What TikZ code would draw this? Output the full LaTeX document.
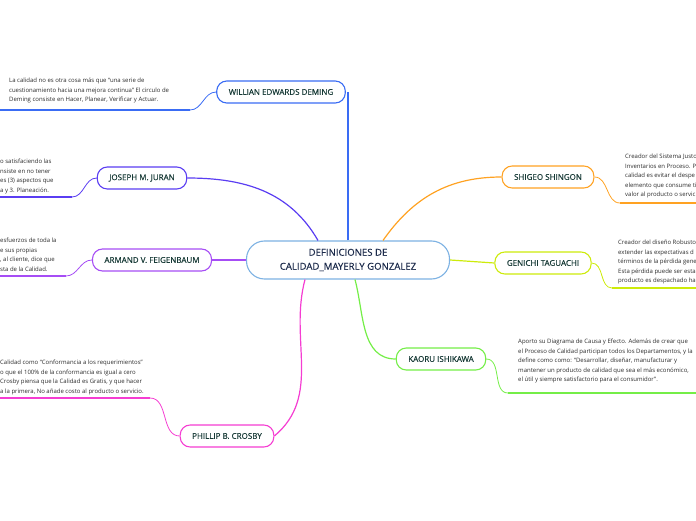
\documentclass[tikz,border=0pt]{standalone}
\usepackage{fontspec}
\setmainfont{Open Sans}
\newfontfamily\labelfont{Open Sans}[FakeBold=0.35]
\usetikzlibrary{positioning}

\definecolor{rootline}{HTML}{7DB2E3}
\definecolor{roottext}{HTML}{1B2A4A}
\definecolor{topictext}{HTML}{173A36}
\definecolor{notetext}{HTML}{2B2B2B}
\definecolor{demingc}{HTML}{3A6CF4}
\definecolor{juranc}{HTML}{5A3DF2}
\definecolor{feigenc}{HTML}{A64DF5}
\definecolor{crosbyc}{HTML}{F53DD2}
\definecolor{shingoc}{HTML}{FFA222}
\definecolor{taguchic}{HTML}{CDEB0A}
\definecolor{ishikawac}{HTML}{74EE47}

\tikzset{
  root/.style={draw=rootline, line width=1.1pt, rounded corners=18pt, fill=white,
    minimum width=203pt, minimum height=38pt, align=center, text=roottext,
    font=\labelfont\fontsize{9.6}{14}\selectfont},
  topic/.style={draw, line width=1.1pt, rounded corners=10pt, fill=white,
    minimum height=22pt, inner xsep=12pt, text=topictext,
    font=\labelfont\fontsize{8}{9}\selectfont},
  note/.style={anchor=north west, align=left, inner sep=0pt, text=notetext,
    font=\fontsize{6}{9.5}\selectfont},
  link/.style={line width=1.2pt},
  rule/.style={line width=1.8pt}
}

\begin{document}
\begin{tikzpicture}[x=1pt,y=1pt]
\useasboundingbox (0,0) rectangle (696,520);
\clip (0,0) rectangle (696,520);

% central topic
\node[root] (root) at (348,260) {DEFINICIONES DE\\CALIDAD\_MAYERLY GONZALEZ};

% left side
\node[topic, draw=demingc] (deming) at (281,428) {WILLIAN EDWARDS DEMING};
\node[topic, draw=juranc] (juran) at (142,342) {JOSEPH M. JURAN};
\node[topic, draw=feigenc] (feigen) at (152,260) {ARMAND V. FEIGENBAUM};
\node[topic, draw=crosbyc] (crosby) at (227,84) {PHILLIP B. CROSBY};

% right side
\node[topic, draw=shingoc] (shingo) at (548,343) {SHIGEO SHINGON};
\node[topic, draw=taguchic] (taguchi) at (543,257) {GENICHI TAGUACHI};
\node[topic, draw=ishikawac] (ishikawa) at (441,161) {KAORU ISHIKAWA};

% notes
\node[note] (demingnote) at (9,442) {La calidad no es otra cosa más que “una serie de\\cuestionamiento hacia una mejora continua” El circulo de\\Deming consiste en Hacer, Planear, Verificar y Actuar.};
\node[note] (jurannote) at (0,361) {o satisfaciendo las\\nsiste en no tener\\es (3) aspectos que\\a y 3. Planeación.};
\node[note] (feigennote) at (0,282) {esfuerzos de toda la\\e sus propias\\, al cliente, dice que\\sta de la Calidad.};
\node[note] (crosbynote) at (0,160) {Calidad como “Conformancia a los requerimientos”\\o que el 100\% de la conformancia es igual a cero\\Crosby piensa que la Calidad es Gratis, y que hacer\\a la primera, No añade costo al producto o servicio.};
\node[note] (shingonote) at (625,366) {Creador del Sistema Justo\\Inventarios en Proceso. P\\calidad es evitar el despe\\elemento que consume ti\\valor al producto o servic};
\node[note] (taguchinote) at (618,280) {Creador del diseño Robusto\\extender las expectativas d\\términos de la pérdida gene\\Esta pérdida puede ser esta\\producto es despachado ha};
\node[note] (ishikawanote) at (518,181) {Aporto su Diagrama de Causa y Efecto. Además de crear que\\el Proceso de Calidad participan todos los Departamentos, y la\\define como como: “Desarrollar, diseñar, manufacturar y\\mantener un producto de calidad que sea el más económico,\\el útil y siempre satisfactorio para el consumidor”.};

% underline ends
\coordinate (dl1) at (0,410);   \coordinate (dl2) at (190,410);
\coordinate (jl1) at (0,323);   \coordinate (jl2) at (72,323);
\coordinate (fl1) at (0,244);   \coordinate (fl2) at (66,244);
\coordinate (cl1) at (0,122);   \coordinate (cl2) at (150,122);
\coordinate (sl1) at (620,317); \coordinate (sl2) at (696,317);
\coordinate (tl1) at (612,232); \coordinate (tl2) at (696,232);
\coordinate (il1) at (508,127); \coordinate (il2) at (696,127);

% branches
\draw[link, demingc] (root.north) -- (root.north |- deming.east);
\draw[link, juranc] (juran.east) to[out=0, in=120] ([xshift=-30pt]root.north);
\draw[link, feigenc] (feigen.east) -- (root.west);
\draw[link, crosbyc] (crosby.east) to[out=40, in=-105] ([xshift=-43pt]root.south);
\draw[link, shingoc] ([xshift=35pt]root.north) to[out=55, in=180] (shingo.west);
\draw[link, taguchic] (root.east) -- (taguchi.west);
\draw[link, ishikawac] ([xshift=7pt]root.south) to[out=-75, in=180] (ishikawa.west);

% note lines
\draw[link, demingc, line width=0.8pt] (dl2) to[out=0, in=180] (deming.west);
\draw[rule, demingc] (dl1) -- (dl2);
\draw[link, juranc, line width=0.8pt] (jl2) to[out=0, in=180] (juran.west);
\draw[rule, juranc] (jl1) -- (jl2);
\draw[link, feigenc, line width=0.8pt] (fl2) to[out=0, in=180] (feigen.west);
\draw[rule, feigenc] (fl1) -- (fl2);
\draw[link, crosbyc, line width=0.8pt] (cl2) to[out=0, in=180] (crosby.west);
\draw[rule, crosbyc] (cl1) -- (cl2);
\draw[link, shingoc, line width=0.8pt] (shingo.east) to[out=0, in=180] (sl1);
\draw[rule, shingoc] (sl1) -- (sl2);
\draw[link, taguchic, line width=0.8pt] (taguchi.east) to[out=0, in=180] (tl1);
\draw[rule, taguchic] (tl1) -- (tl2);
\draw[link, ishikawac, line width=0.8pt] (ishikawa.east) to[out=0, in=180] (il1);
\draw[rule, ishikawac] (il1) -- (il2);
\end{tikzpicture}
\end{document}
